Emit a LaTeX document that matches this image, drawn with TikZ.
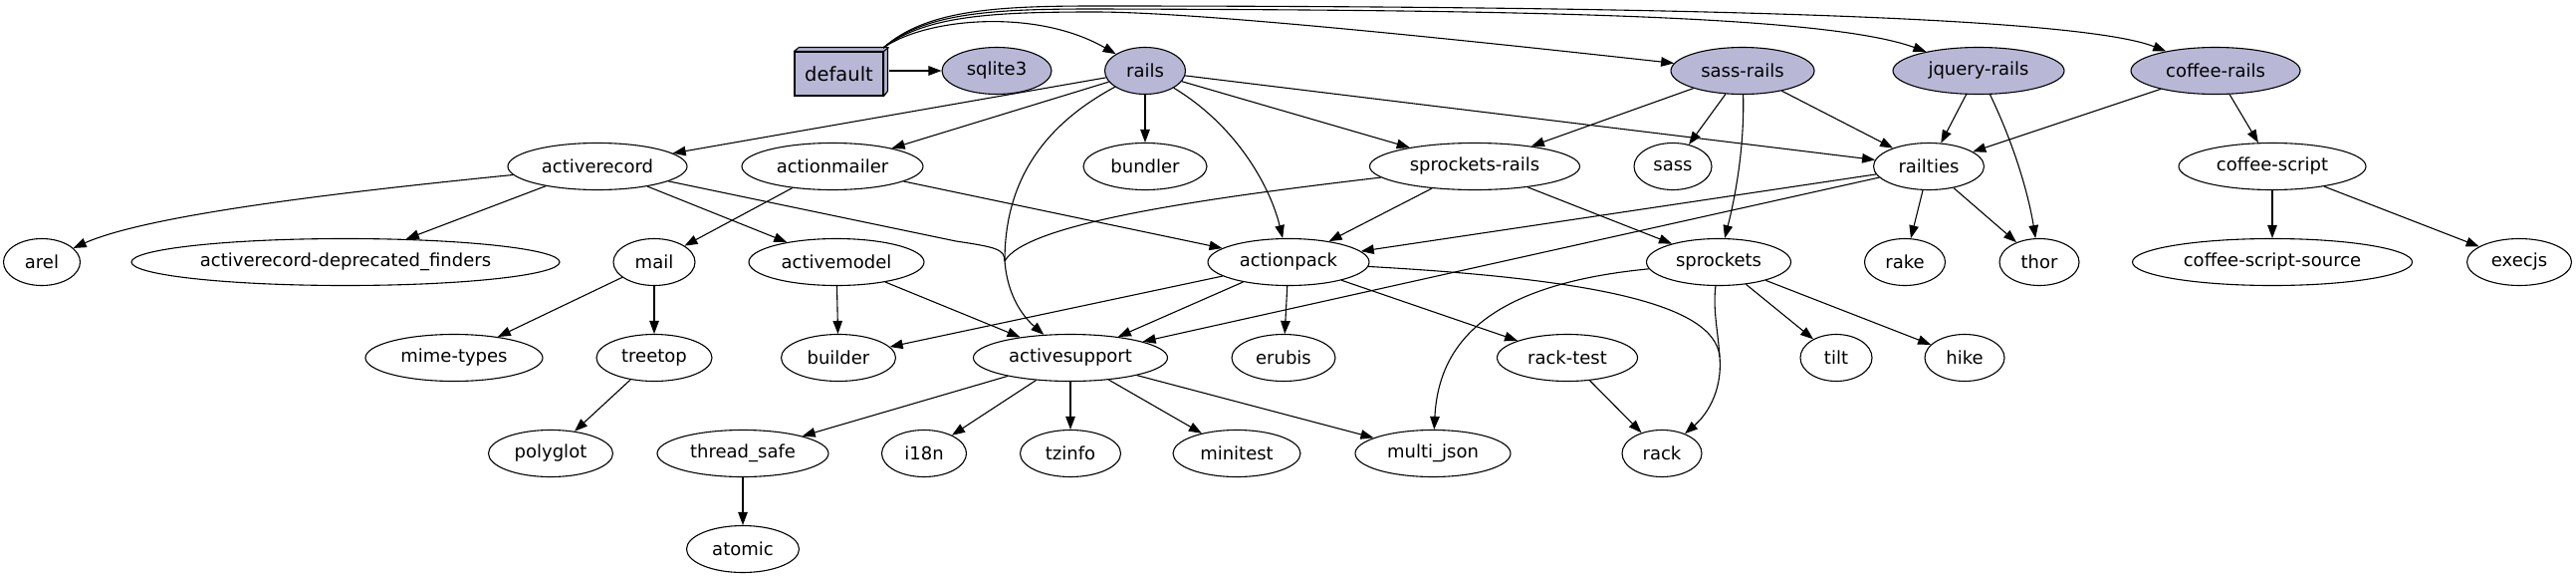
\documentclass[tikz,border=0pt]{standalone}
\usepackage{fontspec}
\setmainfont{DejaVu Sans}
\usetikzlibrary{shapes.geometric,arrows.meta}
\definecolor{pkg}{RGB}{184,184,214}
\begin{document}
\begin{tikzpicture}[x=1pt,y=-1pt,
  every node/.style={font=\fontsize{18}{22}\selectfont},
  gnode/.style={draw, ellipse, line width=1.1pt, minimum height=47pt, inner sep=0pt},
  topnode/.style={gnode, fill=pkg},
  edge/.style={line width=1.1pt, -{Triangle[length=13pt,width=9.5pt]}},
  plain/.style={line width=1.1pt}]
\fill[white] (0,0) rectangle (2587,581);
\useasboundingbox (0,0) rectangle (2587,581);

% default (box3d)
\node[draw, fill=pkg, line width=1.1pt, minimum width=89pt, minimum height=44pt, inner sep=0pt,
      font=\fontsize{19.5}{24}\selectfont] (dflt) at (842.5,74) {default};
\filldraw[fill=pkg, line width=1.1pt, line join=round]
  (dflt.north west) -- ++(5,-4) -- ++(89,0) -- ++(0,44) -- (dflt.south east) -- (dflt.north east) -- cycle;
\draw[line width=1.1pt] (dflt.north east) -- ++(5,-4);

% row 1
\node[topnode, minimum width=110pt] (sqlite3) at (1001,71) {sqlite3};
\node[topnode, minimum width=81pt] (rails) at (1150,71) {rails};
\node[topnode, minimum width=144pt] (sassrails) at (1750,71) {sass-rails};
\node[topnode, minimum width=172pt] (jqueryrails) at (1987,71) {jquery-rails};
\node[topnode, minimum width=170pt] (coffeerails) at (2225,71) {coffee-rails};

% row 2
\node[gnode, minimum width=180pt] (activerecord) at (600,167) {activerecord};
\node[gnode, minimum width=182pt] (actionmailer) at (836,167) {actionmailer};
\node[gnode, minimum width=124pt] (bundler) at (1150,167) {bundler};
\node[gnode, minimum width=211pt] (sprocketsrails) at (1481,167) {sprockets-rails};
\node[gnode, minimum width=78pt] (sass) at (1680,167) {sass};
\node[gnode, minimum width=111pt] (railties) at (1937,167) {railties};
\node[gnode, minimum width=188pt] (coffeescript) at (2282,167) {coffee-script};

% row 3
\node[gnode, minimum width=77pt] (arel) at (42,263) {arel};
\node[gnode, minimum width=430pt] (arfinders) at (347,263) {activerecord-deprecated\_finders};
\node[gnode, minimum width=82pt] (mail) at (657,263) {mail};
\node[gnode, minimum width=176pt] (activemodel) at (840,263) {activemodel};
\node[gnode, minimum width=162pt] (actionpack) at (1294,263) {actionpack};
\node[gnode, minimum width=145pt] (sprockets) at (1726,263) {sprockets};
\node[gnode, minimum width=81pt] (rake) at (1913,263) {rake};
\node[gnode, minimum width=80pt] (thor) at (2048,263) {thor};
\node[gnode, minimum width=281pt] (cssource) at (2282,263) {coffee-script-source};
\node[gnode, minimum width=105pt] (execjs) at (2530,263) {execjs};

% row 4
\node[gnode, minimum width=178pt] (mimetypes) at (456,359) {mime-types};
\node[gnode, minimum width=116pt] (treetop) at (657,359) {treetop};
\node[gnode, minimum width=115pt] (builder) at (842,359) {builder};
\node[gnode, minimum width=195pt] (activesupport) at (1075,359) {activesupport};
\node[gnode, minimum width=104pt] (erubis) at (1289,359) {erubis};
\node[gnode, minimum width=141pt] (racktest) at (1574,359) {rack-test};
\node[gnode, minimum width=72pt] (tilt) at (1844,359) {tilt};
\node[gnode, minimum width=80pt] (hike) at (1973,359) {hike};

% row 5
\node[gnode, minimum width=125pt] (polyglot) at (553,455) {polyglot};
\node[gnode, minimum width=172pt] (threadsafe) at (746,455) {thread\_safe};
\node[gnode, minimum width=85pt] (i18n) at (928,455) {i18n};
\node[gnode, minimum width=101pt] (tzinfo) at (1075,455) {tzinfo};
\node[gnode, minimum width=128pt] (minitest) at (1242,455) {minitest};
\node[gnode, minimum width=156pt] (multijson) at (1439,455) {multi\_json};
\node[gnode, minimum width=80pt] (rack) at (1669,455) {rack};

% row 6
\node[gnode, minimum width=113pt] (atomic) at (746,551) {atomic};

% ---- edges from default
\coordinate (dsrc) at (887,48);
\path (dflt.east |- sqlite3.west) ++(5,0) coordinate (dright);
\draw[edge] (dright) -- (sqlite3.west);
\draw[edge] (dsrc) .. controls (930,18) and (1040,8) .. (rails);
\draw[edge] (dsrc) .. controls (930,15) and (1000,12) .. (1100,12)
  .. controls (1200,12) and (1450,38) .. (sassrails);
\draw[edge] (dsrc) .. controls (930,12) and (1000,9) .. (1100,9)
  .. controls (1500,10) and (1830,14) .. (jqueryrails);
\draw[edge] (dsrc) .. controls (930,10) and (1000,6) .. (1100,6)
  .. controls (1600,6) and (2080,14) .. (coffeerails);

% ---- rails
\draw[edge] (rails) -- (activerecord);
\draw[edge] (rails) -- (actionmailer);
\draw[edge] (rails) -- (bundler);
\draw[edge] (rails) -- (sprocketsrails);
\draw[edge] (rails) -- (railties);
\draw[edge] (rails) .. controls (1240,125) and (1275,185) .. (actionpack);

% concentrated edges into activesupport
\coordinate (m1) at (1009,262);
\draw[plain] (rails) .. controls (1040,130) and (1009,190) .. (m1);
\draw[plain] (activerecord) -- (960,242) .. controls (1000,248) and (1009,250) .. (m1);
\draw[plain] (sprocketsrails) .. controls (1200,200) and (1030,225) .. (m1);
\draw[edge] (m1) .. controls (1012,300) and (1030,320) .. (activesupport);

% ---- activerecord
\draw[edge] (activerecord) .. controls (350,192) and (150,215) .. (arel);
\draw[edge] (activerecord) -- (arfinders);
\draw[edge] (activerecord) -- (activemodel);

% ---- actionmailer
\draw[edge] (actionmailer) -- (mail);
\draw[edge] (actionmailer) -- (actionpack);

% ---- sprockets-rails
\draw[edge] (sprocketsrails) -- (actionpack);
\draw[edge] (sprocketsrails) -- (sprockets);

% ---- sass-rails
\draw[edge] (sassrails) -- (sprocketsrails);
\draw[edge] (sassrails) -- (sass);
\draw[edge] (sassrails) .. controls (1752,150) and (1742,200) .. (sprockets);
\draw[edge] (sassrails) -- (railties);

% ---- jquery-rails
\draw[edge] (jqueryrails) -- (railties);
\draw[edge] (jqueryrails) .. controls (2025,150) and (2038,200) .. (thor);

% ---- coffee-rails
\draw[edge] (coffeerails) -- (railties);
\draw[edge] (coffeerails) -- (coffeescript);

% ---- railties
\draw[edge] (railties) -- (actionpack);
\draw[edge] (railties) -- (activesupport);
\draw[edge] (railties) -- (rake);
\draw[edge] (railties) -- (thor);

% ---- coffee-script
\draw[edge] (coffeescript) -- (cssource);
\draw[edge] (coffeescript) -- (execjs);

% ---- mail
\draw[edge] (mail) -- (mimetypes);
\draw[edge] (mail) -- (treetop);
\draw[edge] (treetop) -- (polyglot);

% ---- activemodel
\draw[edge] (activemodel) -- (builder);
\draw[edge] (activemodel) -- (activesupport);

% ---- actionpack
\draw[edge] (actionpack) -- (builder);
\draw[edge] (actionpack) -- (activesupport);
\draw[edge] (actionpack) -- (erubis);
\draw[edge] (actionpack) -- (racktest);

% concentrated edges into rack
\coordinate (m2) at (1727,358);
\draw[plain] (actionpack) .. controls (1600,280) and (1722,305) .. (m2);
\draw[plain] (sprockets) .. controls (1720,310) and (1725,330) .. (m2);
\draw[edge] (m2) .. controls (1730,395) and (1712,418) .. (rack);

% ---- sprockets
\draw[edge] (sprockets) .. controls (1500,285) and (1445,340) .. (multijson);
\draw[edge] (sprockets) -- (tilt);
\draw[edge] (sprockets) -- (hike);

% ---- rack-test
\draw[edge] (racktest) -- (rack);

% ---- activesupport
\draw[edge] (activesupport) -- (threadsafe);
\draw[edge] (activesupport) -- (i18n);
\draw[edge] (activesupport) -- (tzinfo);
\draw[edge] (activesupport) -- (minitest);
\draw[edge] (activesupport) -- (multijson);

% ---- thread_safe
\draw[edge] (threadsafe) -- (atomic);
\end{tikzpicture}
\end{document}
